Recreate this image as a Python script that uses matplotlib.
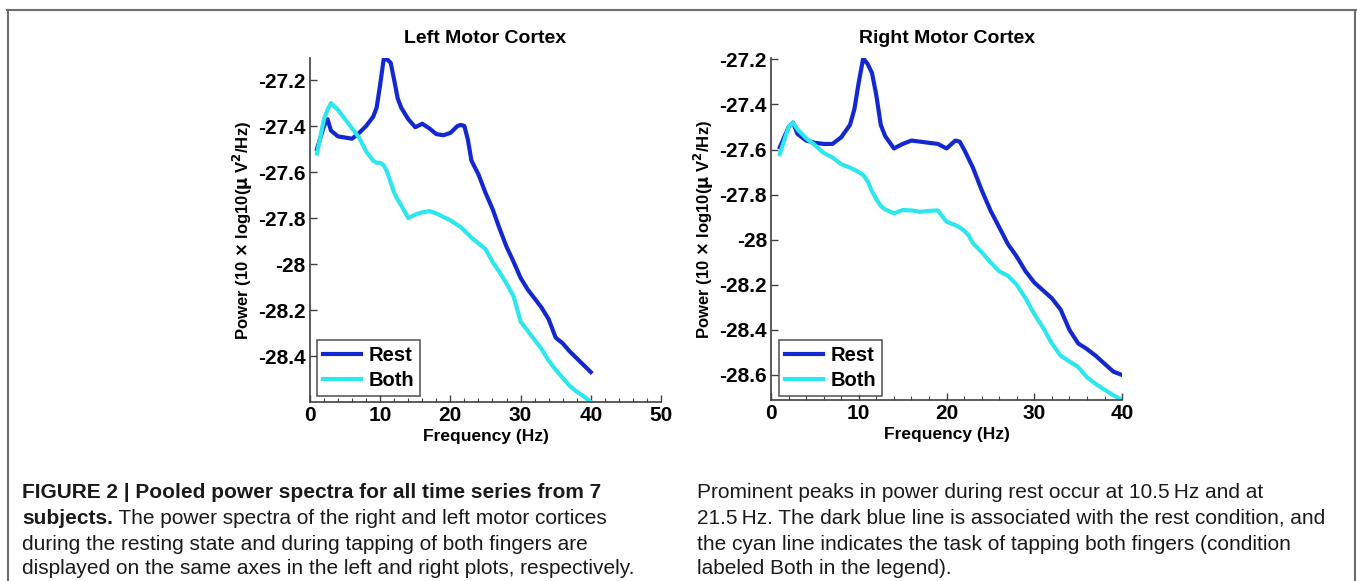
import matplotlib
matplotlib.use("Agg")
import matplotlib.pyplot as plt
from matplotlib.lines import Line2D
from matplotlib.ticker import MultipleLocator

# frequency grid (Hz)
freq = [1, 2, 2.5, 3, 4, 5, 6, 7, 8, 9, 9.5, 10, 10.5, 11, 11.5, 12, 12.5,
        13, 14, 15, 16, 17, 18, 19, 20, 21, 21.5, 22, 22.5,
        23, 24, 25, 26, 27, 28, 29, 30, 31, 32, 33, 34, 35, 36, 37, 38, 39, 40]

left_rest = [-27.50, -27.40, -27.37, -27.42, -27.445, -27.45, -27.455, -27.43, -27.40,
             -27.36, -27.32, -27.22, -27.11, -27.11, -27.125, -27.20, -27.28,
             -27.32, -27.37, -27.405, -27.39, -27.41, -27.435, -27.44, -27.43, -27.40,
             -27.395, -27.40, -27.46,
             -27.55, -27.61, -27.69, -27.76, -27.845, -27.925, -27.99, -28.06, -28.11,
             -28.15, -28.19, -28.24, -28.32, -28.345, -28.38, -28.41, -28.44, -28.47]

left_both = [-27.52, -27.37, -27.33, -27.30, -27.33, -27.37, -27.41, -27.45, -27.51,
             -27.55, -27.56, -27.56, -27.57, -27.60, -27.645, -27.69, -27.72,
             -27.745, -27.80, -27.785, -27.775, -27.77, -27.78, -27.795, -27.81, -27.83,
             -27.84, -27.855, -27.87,
             -27.885, -27.91, -27.935, -27.99, -28.035, -28.085, -28.14, -28.25, -28.29,
             -28.33, -28.37, -28.42, -28.46, -28.495, -28.53, -28.555, -28.575, -28.60]

right_rest = [-27.59, -27.50, -27.48, -27.53, -27.56, -27.57, -27.575, -27.575, -27.545,
              -27.49, -27.42, -27.30, -27.195, -27.22, -27.26, -27.36, -27.49,
              -27.54, -27.595, -27.575, -27.56, -27.565, -27.57, -27.575, -27.595, -27.56,
              -27.565, -27.60, -27.64,
              -27.68, -27.78, -27.87, -27.945, -28.02, -28.075, -28.14, -28.19, -28.225,
              -28.26, -28.31, -28.40, -28.46, -28.485, -28.515, -28.55, -28.585, -28.60]

right_both = [-27.62, -27.50, -27.48, -27.51, -27.55, -27.58, -27.615, -27.635, -27.665,
              -27.68, -27.69, -27.70, -27.713, -27.74, -27.785, -27.82, -27.85,
              -27.865, -27.883, -27.868, -27.87, -27.876, -27.872, -27.87, -27.92, -27.935,
              -27.945, -27.96, -27.98,
              -28.015, -28.055, -28.10, -28.14, -28.16, -28.20, -28.26, -28.33, -28.39,
              -28.46, -28.515, -28.54, -28.565, -28.61, -28.64, -28.665, -28.69, -28.71]

REST_C = "#1428d0"
BOTH_C = "#2ee6ee"
AX_C = "#404040"

plt.rcParams["font.family"] = ["Liberation Sans", "DejaVu Sans"]
plt.rcParams["mathtext.default"] = "bf"

fig = plt.figure(figsize=(13.57, 5.81), dpi=100)


def draw_panel(rect, rest, both, title, xlim, xticks, ylim, yticks, ylabels, leg_anchor):
    ax = fig.add_axes(rect)
    ax.plot(freq, rest, color=REST_C, lw=3, label="Rest", solid_joinstyle="round")
    ax.plot(freq, both, color=BOTH_C, lw=3, label="Both", solid_joinstyle="round")
    ax.set_xlim(*xlim)
    ax.set_ylim(*ylim)
    ax.set_xticks(xticks)
    ax.set_xticklabels([str(t) for t in xticks], fontsize=15, fontweight="bold")
    ax.set_yticks(yticks)
    ax.set_yticklabels(ylabels, fontsize=15, fontweight="bold")
    ax.xaxis.set_minor_locator(MultipleLocator(2))
    ax.tick_params(direction="in", length=5, width=1, color=AX_C, pad=3)
    ax.tick_params(which="minor", direction="in", length=3, width=0.8, color=AX_C)
    for s in ("top", "right"):
        ax.spines[s].set_visible(False)
    for s in ("left", "bottom"):
        ax.spines[s].set_color(AX_C)
        ax.spines[s].set_linewidth(1.2)
    ax.set_title(title, fontsize=14, fontweight="bold", pad=11)
    ax.set_xlabel("Frequency (Hz)", fontsize=12.5, fontweight="bold", labelpad=3)
    ax.set_ylabel(r"Power (10 $\times$ log10($\mu$ V$^2$/Hz)", fontsize=12,
                  fontweight="bold", labelpad=2)
    leg = ax.legend(loc="lower left", bbox_to_anchor=leg_anchor,
                    prop={"weight": "bold", "size": 14.5}, frameon=True, fancybox=False,
                    handlelength=1.9, handletextpad=0.35, borderpad=0.3,
                    labelspacing=0.3, borderaxespad=0)
    leg.get_frame().set_edgecolor("#333333")
    leg.get_frame().set_linewidth(1.2)
    return ax


draw_panel([0.2284, 0.3081, 0.2587, 0.5921], left_rest, left_both, "Left Motor Cortex",
           (0, 50), [0, 10, 20, 30, 40, 50], (-28.6, -27.104),
           [-27.2, -27.4, -27.6, -27.8, -28.0, -28.2, -28.4],
           ["-27.2", "-27.4", "-27.6", "-27.8", "-28", "-28.2", "-28.4"], (0.02, 0.017))

draw_panel([0.5682, 0.3115, 0.2587, 0.5886], right_rest, right_both, "Right Motor Cortex",
           (0, 40), [0, 10, 20, 30, 40], (-28.711, -27.194),
           [-27.2, -27.4, -27.6, -27.8, -28.0, -28.2, -28.4, -28.6],
           ["-27.2", "-27.4", "-27.6", "-27.8", "-28", "-28.2", "-28.4", "-28.6"],
           (0.023, 0.012))

# frame lines
W, H = 1357.0, 581.0
fig.add_artist(Line2D([7 / W, 1356 / W], [1 - 10 / H, 1 - 10 / H], color="#6e6e6e", lw=1.5))
fig.add_artist(Line2D([8 / W, 8 / W], [0, 1 - 10 / H], color="#6e6e6e", lw=1.5))
fig.add_artist(Line2D([1355 / W, 1355 / W], [0, 1 - 10 / H], color="#6e6e6e", lw=1.5))

# caption (bold and regular runs placed one after another)
cap_font = ["Liberation Sans", "DejaVu Sans"]
cap_size = 15
renderer = fig.canvas.get_renderer()


def put_line(x_px, y_px, parts):
    x = x_px
    for txt, weight in parts:
        t = fig.text(x / W, 1 - y_px / H, txt, fontsize=cap_size, fontweight=weight,
                     family=cap_font, va="center", ha="left", color="#1a1a1a")
        bb = t.get_window_extent(renderer=renderer)
        x += bb.width


left_lines = [
    [("FIGURE 2 | Pooled power spectra for all time series from 7", "bold")],
    [("subjects.", "bold"), (" The power spectra of the right and left motor cortices", "normal")],
    [("during the resting state and during tapping of both fingers are", "normal")],
    [("displayed on the same axes in the left and right plots, respectively.", "normal")],
]
right_lines = [
    [("Prominent peaks in power during rest occur at 10.5\u2009Hz and at", "normal")],
    [("21.5\u2009Hz. The dark blue line is associated with the rest condition, and", "normal")],
    [("the cyan line indicates the task of tapping both fingers (condition", "normal")],
    [("labeled Both in the legend).", "normal")],
]
line_y = [493, 518, 544, 569]
for y, parts in zip(line_y, left_lines):
    put_line(22, y, parts)
for y, parts in zip(line_y, right_lines):
    put_line(697, y, parts)

fig.savefig("out.png", dpi=100)
